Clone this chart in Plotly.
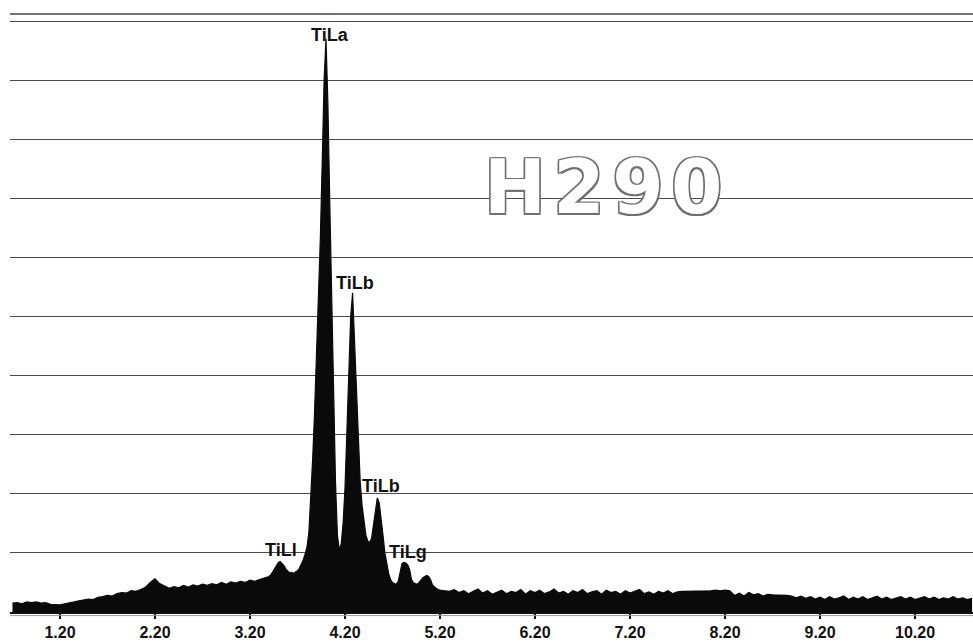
import plotly.graph_objects as go

# ---- data (energy in keV, counts in grid units) ----
energy_low = [0.70, 0.75, 0.80, 0.85, 0.90, 0.95, 1.00, 1.05, 1.10, 1.15,
              1.20, 1.25, 1.30, 1.35, 1.40, 1.45, 1.50, 1.55, 1.60, 1.65,
              1.70, 1.75, 1.80, 1.85, 1.90, 1.95, 2.00, 2.05, 2.10, 2.15,
              2.20, 2.25, 2.30, 2.35, 2.40, 2.45, 2.50, 2.55, 2.60, 2.65,
              2.70, 2.75, 2.80, 2.85, 2.90, 2.95, 3.00, 3.05, 3.10, 3.15,
              3.20, 3.25, 3.30, 3.35]
counts_low = [0.15, 0.16, 0.14, 0.17, 0.16, 0.17, 0.15, 0.16, 0.13, 0.12,
              0.12, 0.14, 0.15, 0.17, 0.19, 0.20, 0.22, 0.21, 0.25, 0.26,
              0.28, 0.27, 0.31, 0.33, 0.32, 0.36, 0.35, 0.38, 0.42, 0.50,
              0.56, 0.48, 0.44, 0.40, 0.43, 0.41, 0.45, 0.42, 0.46, 0.44,
              0.47, 0.45, 0.48, 0.46, 0.50, 0.47, 0.51, 0.49, 0.52, 0.50,
              0.54, 0.52, 0.55, 0.58]

energy_peak = [3.40, 3.42, 3.44, 3.46, 3.48, 3.50, 3.52, 3.54, 3.56, 3.58,
               3.60, 3.62, 3.64, 3.66, 3.68, 3.70, 3.72, 3.74, 3.76, 3.78,
               3.80, 3.82, 3.84, 3.86, 3.88, 3.90, 3.92, 3.94, 3.96, 3.98,
               4.00, 4.02, 4.04, 4.06, 4.08, 4.10, 4.12, 4.14, 4.16, 4.18,
               4.20, 4.22, 4.24, 4.26, 4.28, 4.30, 4.32, 4.34, 4.36, 4.38,
               4.40, 4.42, 4.44, 4.46, 4.48, 4.50, 4.52, 4.54, 4.56, 4.58,
               4.60, 4.62, 4.64, 4.66, 4.68, 4.70, 4.72, 4.74, 4.76, 4.78,
               4.80, 4.82, 4.84, 4.86, 4.88, 4.90, 4.92, 4.94, 4.96, 4.98,
               5.00, 5.02, 5.04, 5.06, 5.08, 5.10, 5.12, 5.14, 5.16, 5.18,
               5.20, 5.25, 5.30]
counts_peak = [0.60, 0.63, 0.68, 0.74, 0.80, 0.84, 0.85, 0.82, 0.78, 0.72,
               0.68, 0.66, 0.67, 0.65, 0.68, 0.70, 0.74, 0.80, 0.88, 0.98,
               1.10, 1.35, 1.90, 2.60, 3.40, 4.30, 5.20, 6.30, 7.60, 9.00,
               9.70, 8.60, 6.90, 5.40, 3.60, 2.20, 1.30, 1.05, 1.15, 1.50,
               2.10, 3.00, 4.00, 5.00, 5.40, 4.60, 3.60, 2.80, 2.20, 1.80,
               1.50, 1.30, 1.20, 1.18, 1.25, 1.50, 1.75, 1.93, 1.85, 1.60,
               1.30, 1.00, 0.80, 0.65, 0.55, 0.50, 0.48, 0.47, 0.52, 0.70,
               0.82, 0.84, 0.83, 0.80, 0.72, 0.55, 0.50, 0.48, 0.47, 0.50,
               0.55, 0.58, 0.60, 0.62, 0.60, 0.55, 0.46, 0.42, 0.40, 0.38,
               0.37, 0.36, 0.35]

energy_high = [5.35, 5.40, 5.45, 5.50, 5.55, 5.60, 5.65, 5.70, 5.75, 5.80,
               5.85, 5.90, 5.95, 6.00, 6.05, 6.10, 6.15, 6.20, 6.25, 6.30,
               6.35, 6.40, 6.45, 6.50, 6.55, 6.60, 6.65, 6.70, 6.75, 6.80,
               6.85, 6.90, 6.95, 7.00, 7.05, 7.10, 7.15, 7.20, 7.25, 7.30,
               7.35, 7.40, 7.45, 7.50, 7.55, 7.60, 7.65, 7.70, 7.75, 7.80,
               7.85, 7.90, 7.95, 8.00, 8.05, 8.10, 8.15, 8.20, 8.25, 8.30,
               8.35, 8.40, 8.45, 8.50, 8.55, 8.60, 8.65, 8.70, 8.75, 8.80,
               8.85, 8.90, 8.95, 9.00, 9.05, 9.10, 9.15, 9.20, 9.25, 9.30,
               9.35, 9.40, 9.45, 9.50, 9.55, 9.60, 9.65, 9.70, 9.75, 9.80,
               9.85, 9.90, 9.95, 10.00, 10.05, 10.10, 10.15, 10.20, 10.25, 10.30,
               10.35, 10.40, 10.45, 10.50, 10.55, 10.60, 10.65, 10.70, 10.75, 10.80]
counts_high = [0.38, 0.33, 0.36, 0.31, 0.35, 0.39, 0.32, 0.36, 0.30, 0.34,
               0.37, 0.31, 0.35, 0.33, 0.38, 0.30, 0.36, 0.33, 0.37, 0.31,
               0.34, 0.39, 0.32, 0.35, 0.30, 0.36, 0.33, 0.38, 0.31, 0.34,
               0.36, 0.30, 0.37, 0.33, 0.35, 0.30, 0.36, 0.32, 0.35, 0.38,
               0.31, 0.34, 0.30, 0.35, 0.32, 0.36, 0.31, 0.34, 0.35, 0.35,
               0.36, 0.35, 0.36, 0.36, 0.36, 0.37, 0.36, 0.37, 0.36, 0.28,
               0.32, 0.27, 0.33, 0.29, 0.31, 0.27, 0.30, 0.29, 0.29, 0.28,
               0.28, 0.27, 0.24, 0.27, 0.23, 0.26, 0.22, 0.25, 0.21, 0.26,
               0.22, 0.24, 0.27, 0.21, 0.25, 0.22, 0.26, 0.21, 0.24, 0.27,
               0.22, 0.25, 0.21, 0.24, 0.26, 0.22, 0.25, 0.21, 0.24, 0.26,
               0.22, 0.25, 0.21, 0.24, 0.22, 0.26, 0.22, 0.24, 0.21, 0.23]

tick_values = [1.2, 2.2, 3.2, 4.2, 5.2, 6.2, 7.2, 8.2, 9.2, 10.2]
tick_labels = ["1.20", "2.20", "3.20", "4.20", "5.20", "6.20", "7.20", "8.20", "9.20", "10.20"]

peak_labels = ["TiLa", "TiLb", "TiLb", "TiLg", "TiLl"]
peak_label_x = [4.04, 4.305, 4.58, 4.86, 3.53]
peak_label_y = [9.76, 5.57, 2.13, 1.02, 1.05]

sample_name = "H\u200a2\u200a9\u200a0"

energy = energy_low + energy_peak + energy_high
counts = counts_low + counts_peak + counts_high

fig = go.Figure()
fig.add_trace(go.Scatter(
    x=energy, y=counts, mode="lines",
    line=dict(color="#0a0a0a", width=1.2),
    fill="tozeroy", fillcolor="#0a0a0a",
    hoverinfo="skip", showlegend=False,
))

for txt, lx, ly in zip(peak_labels, peak_label_x, peak_label_y):
    fig.add_annotation(x=lx, y=ly, text=txt, showarrow=False,
                       font=dict(family="Liberation Sans, Arial", size=18, color="#111",
                                 weight="bold"),
                       xanchor="center", yanchor="middle")

fig.add_annotation(x=0.616, y=0.71, xref="paper", yref="paper", text=sample_name,
                   showarrow=False,
                   font=dict(family="DejaVu Sans", size=74, color="white", weight="bold",
                             shadow="1.5px 1.5px 0 #6f6f6f, -1.5px -1.5px 0 #6f6f6f, 1.5px -1.5px 0 #6f6f6f, -1.5px 1.5px 0 #6f6f6f"),
                   xanchor="center", yanchor="middle")

# top border line of the printout and faint second line under the baseline
fig.add_shape(type="line", xref="paper", yref="paper", x0=0, x1=1, y0=1, y1=1,
              line=dict(color="#444", width=1.5))
fig.add_shape(type="line", xref="paper", yref="paper", x0=0, x1=1, y0=-0.006, y1=-0.006,
              line=dict(color="#9a9a9a", width=1))

fig.update_xaxes(range=[0.674, 10.81], tickvals=tick_values, ticktext=tick_labels,
                 automargin=False,
                 showgrid=False, zeroline=False, showline=True, linecolor="#111",
                 linewidth=2, ticks="outside", ticklen=5, tickwidth=2, tickcolor="#111",
                 tickfont=dict(family="Liberation Sans, Arial", size=16, color="#111",
                               weight="bold"))
fig.update_yaxes(range=[0, 10.12], dtick=1, tick0=0, showgrid=True, gridcolor="#4a4a4a",
                 automargin=False,
                 gridwidth=1, zeroline=False, showticklabels=False, showline=False)

fig.update_layout(width=973, height=644, margin=dict(l=10, r=0, t=14, b=32),
                  paper_bgcolor="white", plot_bgcolor="white")

fig.write_html("out.html")
